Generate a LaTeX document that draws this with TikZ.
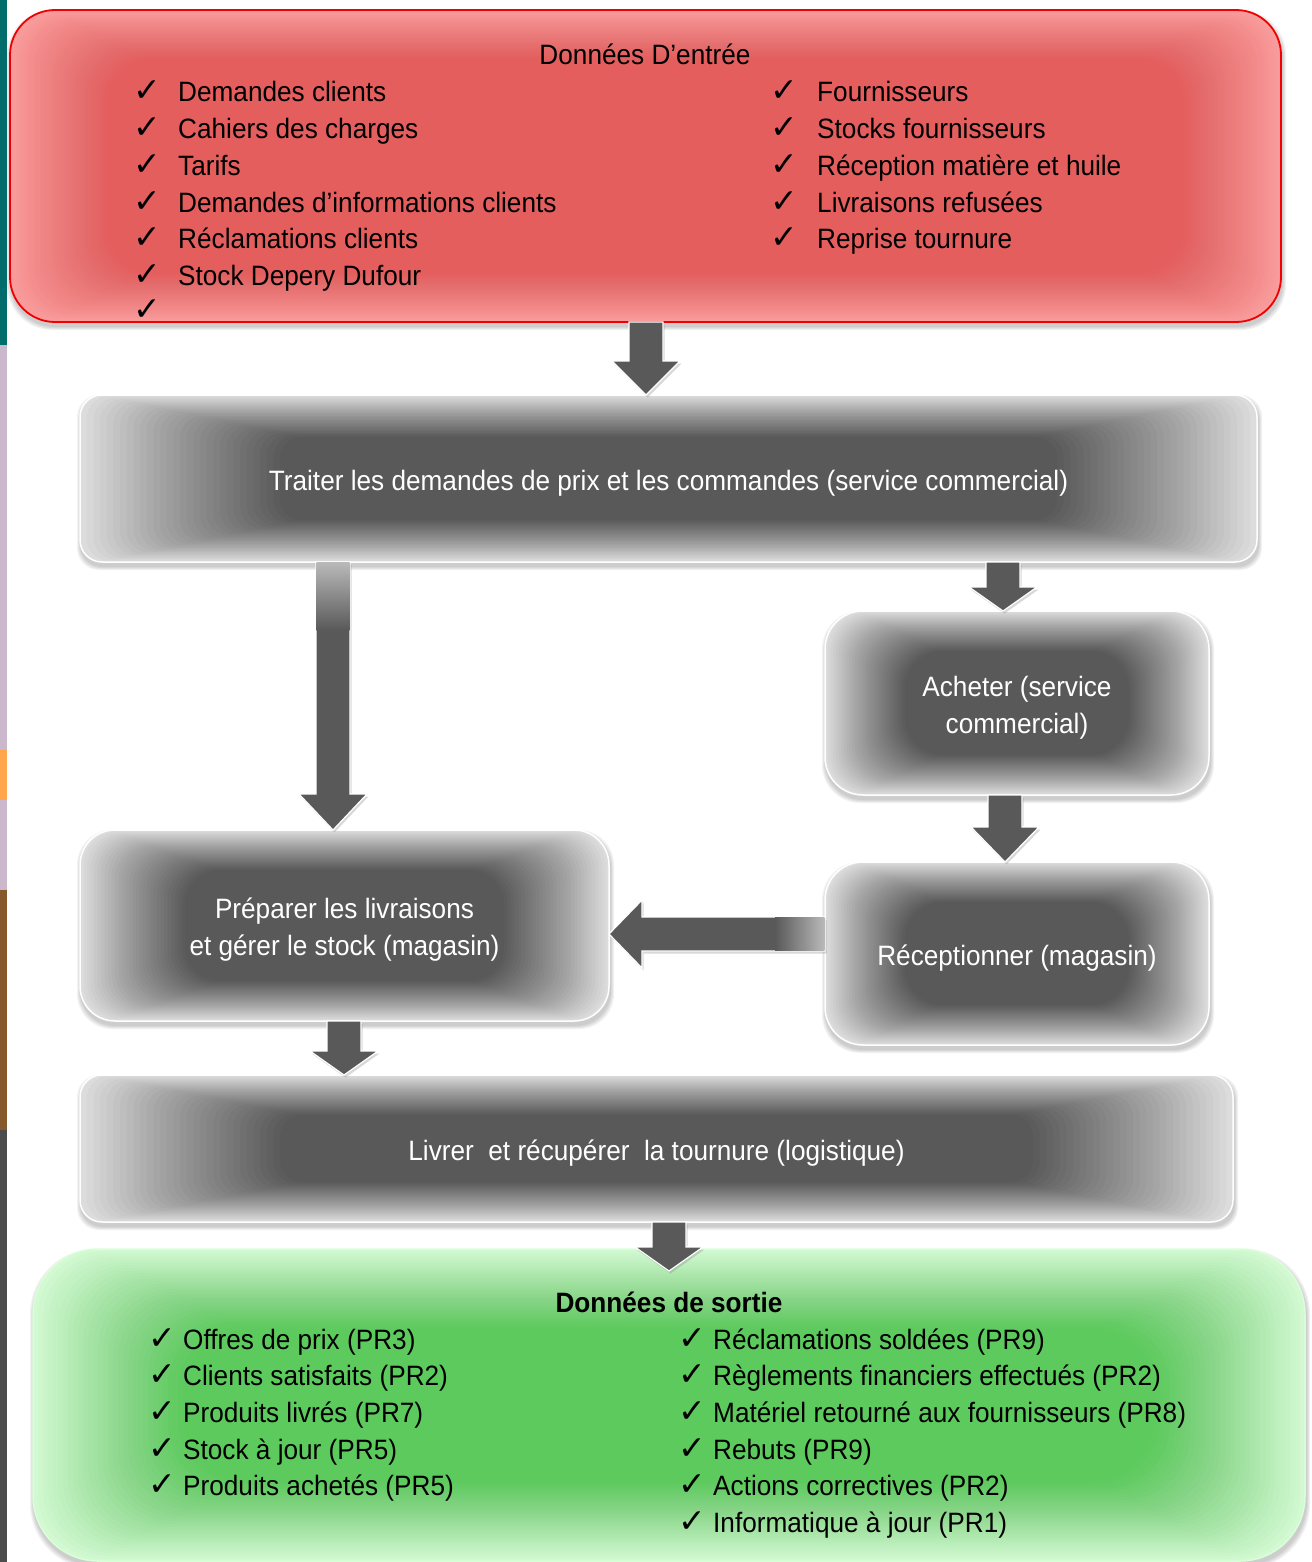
\documentclass[tikz,border=0pt]{standalone}
\usepackage{fontspec}
\setmainfont{Liberation Sans}[FakeStretch=0.935]
\newfontfamily\symfont{DejaVu Sans}
\usetikzlibrary{calc,shadows}

\definecolor{boxdark}{HTML}{595959}
\definecolor{boxlight}{HTML}{DCDCDC}
\definecolor{redlight}{HTML}{FA9C9C}
\definecolor{reddark}{HTML}{E45E5E}
\definecolor{redline}{HTML}{F00000}
\definecolor{greenlight}{HTML}{D2F9D2}
\definecolor{greendark}{HTML}{5DCA5D}

\newcommand{\mainsize}{\fontsize{28}{36.7}\selectfont}
\newcommand{\ck}[1]{\makebox[#1][l]{\symfont\fontsize{33}{33}\selectfont ✓}}
\newcommand{\dn}[1]{\raisebox{-4.5pt}[\height][\depth]{\begin{tabular}{@{}c@{}}#1\end{tabular}}}

% x1,y1,x2,y2,radius,outer colour,inner colour,band x,band y
\newcommand{\glowbox}[9]{%
  \foreach \s in {1,2,3,4}{\fill[black,opacity=0.05,rounded corners=#5] ({#1-\s+1},{#2-\s+4}) rectangle ({#3+\s+1},{#4+\s+4});}
  \fill[#6,rounded corners=#5] (#1,#2) rectangle (#3,#4);
  \foreach \i in {1,...,30}{\pgfmathsetmacro\op{1/(31-\i)}
    \fill[#7,opacity=\op,rounded corners=#5] ({#1+\i*#8/30},{#2+\i*#9/30}) rectangle ({#3-\i*#8/30},{#4-\i*#9/30});}
}

% block arrows: [head length]{start}{tip}
\newcommand{\blkdown}[3][34pt]{%
  \filldraw[arrowbody] let \p1=(#2), \p2=(#3) in
    (\x1-17pt,\y1) -- (\x1+17pt,\y1) -- (\x1+17pt,\y2+#1) -- (\x1+34pt,\y2+#1) -- (\x1,\y2)
    -- (\x1-34pt,\y2+#1) -- (\x1-17pt,\y2+#1) -- cycle;}
\newcommand{\blkleft}[3][34pt]{%
  \filldraw[arrowbody] let \p1=(#2), \p2=(#3) in
    (\x1,\y1-17pt) -- (\x1,\y1+17pt) -- (\x2+#1,\y1+17pt) -- (\x2+#1,\y1+34pt) -- (\x2,\y1)
    -- (\x2+#1,\y1-34pt) -- (\x2+#1,\y1-17pt) -- cycle;}

\tikzset{
  frame/.style={rectangle, inner sep=0pt, outer sep=0pt},
  grayframe/.style={frame, draw=white, line width=1.5pt, text=white, font=\mainsize},
  arrowbody/.style={fill=boxdark, draw=white, line width=1.2pt,
    drop shadow={shadow xshift=1.5pt, shadow yshift=-2.5pt, opacity=0.3}},
  listtext/.style={anchor=base west, inner sep=0pt, font=\mainsize},
}

\begin{document}
\begin{tikzpicture}[x=1pt,y=-1pt]
\useasboundingbox (0,0) rectangle (1311,1562);
\fill[white] (0,0) rectangle (1311,1562);

% left edge strip
\fill[teal!85!black] (0,0) rectangle (7,345);
\fill[gray!60!violet!40] (0,345) rectangle (7,890);
\fill[orange!70] (0,750) rectangle (7,800);
\fill[brown!70!black] (0,890) rectangle (7,1130);
\fill[black!70] (0,1130) rectangle (7,1562);

% box fills
\glowbox{10}{10}{1281}{322}{45pt}{redlight}{reddark}{100}{50}
\glowbox{80}{395}{1257}{562}{22pt}{boxlight}{boxdark}{200}{42}
\glowbox{825}{611}{1209}{795}{38pt}{boxlight}{boxdark}{80}{40}
\glowbox{80}{830}{609}{1021}{35pt}{boxlight}{boxdark}{105}{40}
\glowbox{825}{862}{1209}{1045}{38pt}{boxlight}{boxdark}{80}{40}
\glowbox{80}{1075}{1233}{1222}{22pt}{boxlight}{boxdark}{200}{40}
\glowbox{33}{1249}{1305}{1561}{65pt}{greenlight}{greendark}{150}{80}

% frames
\node[frame, draw=redline, line width=1.8pt, rounded corners=45pt,
  minimum width=1271pt, minimum height=312pt] (red) at (645.5,166) {};
\node[grayframe, rounded corners=22pt, minimum width=1177pt, minimum height=167pt]
  (traiter) at (668.5,478.5) {\dn{Traiter les demandes de prix et les commandes (service commercial)}};
\node[grayframe, rounded corners=38pt, minimum width=384pt, minimum height=184pt]
  (acheter) at (1017,703) {\dn{Acheter (service\\commercial)}};
\node[grayframe, rounded corners=35pt, minimum width=529pt, minimum height=191pt]
  (prep) at (344.5,925.5) {\dn{Préparer les livraisons\\et gérer le stock (magasin)}};
\node[grayframe, rounded corners=38pt, minimum width=384pt, minimum height=183pt]
  (recep) at (1017,953.5) {\dn{Réceptionner (magasin)}};
\node[grayframe, rounded corners=22pt, minimum width=1153pt, minimum height=147pt]
  (livrer) at (656.5,1148.5) {\dn{Livrer\ \ et récupérer\ \ la tournure (logistique)}};
\node[frame, draw=white!85!green, line width=1.5pt, rounded corners=65pt,
  minimum width=1272pt, minimum height=312pt] (green) at (669,1405) {};

% texts of the input box
\node[anchor=base, inner sep=0pt, font=\mainsize] (titlein) at (645,65) {Données D’entrée};
\node[listtext] (listinL) at (133,102) {\begin{tabular}[t]{@{}l@{}}
\ck{45pt}Demandes clients\\
\ck{45pt}Cahiers des charges\\
\ck{45pt}Tarifs\\
\ck{45pt}Demandes d’informations clients\\
\ck{45pt}Réclamations clients\\
\ck{45pt}Stock Depery Dufour\\[-2pt]
\ck{45pt}
\end{tabular}};
\node[listtext] (listinR) at (770,102) {\begin{tabular}[t]{@{}l@{}}
\ck{47pt}Fournisseurs\\
\ck{47pt}Stocks fournisseurs\\
\ck{47pt}Réception matière et huile\\
\ck{47pt}Livraisons refusées\\
\ck{47pt}Reprise tournure
\end{tabular}};

% texts of the output box
\node[anchor=base, inner sep=0pt, font=\mainsize\bfseries] (titleout) at (669,1312) {Données de sortie};
\node[listtext] (listoutL) at (148,1349) {\begin{tabular}[t]{@{}l@{}}
\ck{35pt}Offres de prix (PR3)\\
\ck{35pt}Clients satisfaits (PR2)\\
\ck{35pt}Produits livrés (PR7)\\
\ck{35pt}Stock à jour (PR5)\\
\ck{35pt}Produits achetés (PR5)
\end{tabular}};
\node[listtext] (listoutR) at (678,1349) {\begin{tabular}[t]{@{}l@{}}
\ck{35pt}Réclamations soldées (PR9)\\
\ck{35pt}Règlements financiers effectués (PR2)\\
\ck{35pt}Matériel retourné aux fournisseurs (PR8)\\
\ck{35pt}Rebuts (PR9)\\
\ck{35pt}Actions correctives (PR2)\\
\ck{35pt}Informatique à jour (PR1)
\end{tabular}};

% arrow axes
\coordinate (ax1) at (646,0);
\coordinate (ax2) at (333,0);
\coordinate (ax3) at (1003,0);
\coordinate (ax4) at (1005,0);
\coordinate (ax5) at (0,934);
\coordinate (ax6) at (344,0);
\coordinate (ax7) at (669,0);

% connectors
\blkdown{ax1 |- red.south}{ax1 |- traiter.north}
\blkdown[36pt]{ax2 |- traiter.south}{ax2 |- prep.north}
\shade[top color=gray!55, bottom color=boxdark] (316.7,562.7) rectangle (349.3,630);
\blkdown[24pt]{ax3 |- traiter.south}{ax3 |- acheter.north}
\blkdown[35pt]{ax4 |- acheter.south}{ax4 |- recep.north}
\blkleft[33pt]{recep.west |- ax5}{prep.east |- ax5}
\shade[left color=boxdark, right color=gray!55] (775,917.7) rectangle (824.3,950.3);
\blkdown[24pt]{ax6 |- prep.south}{ax6 |- livrer.north}
\blkdown[24pt]{ax7 |- livrer.south}{$(ax7 |- green.north)+(0,22)$}
\end{tikzpicture}
\end{document}
